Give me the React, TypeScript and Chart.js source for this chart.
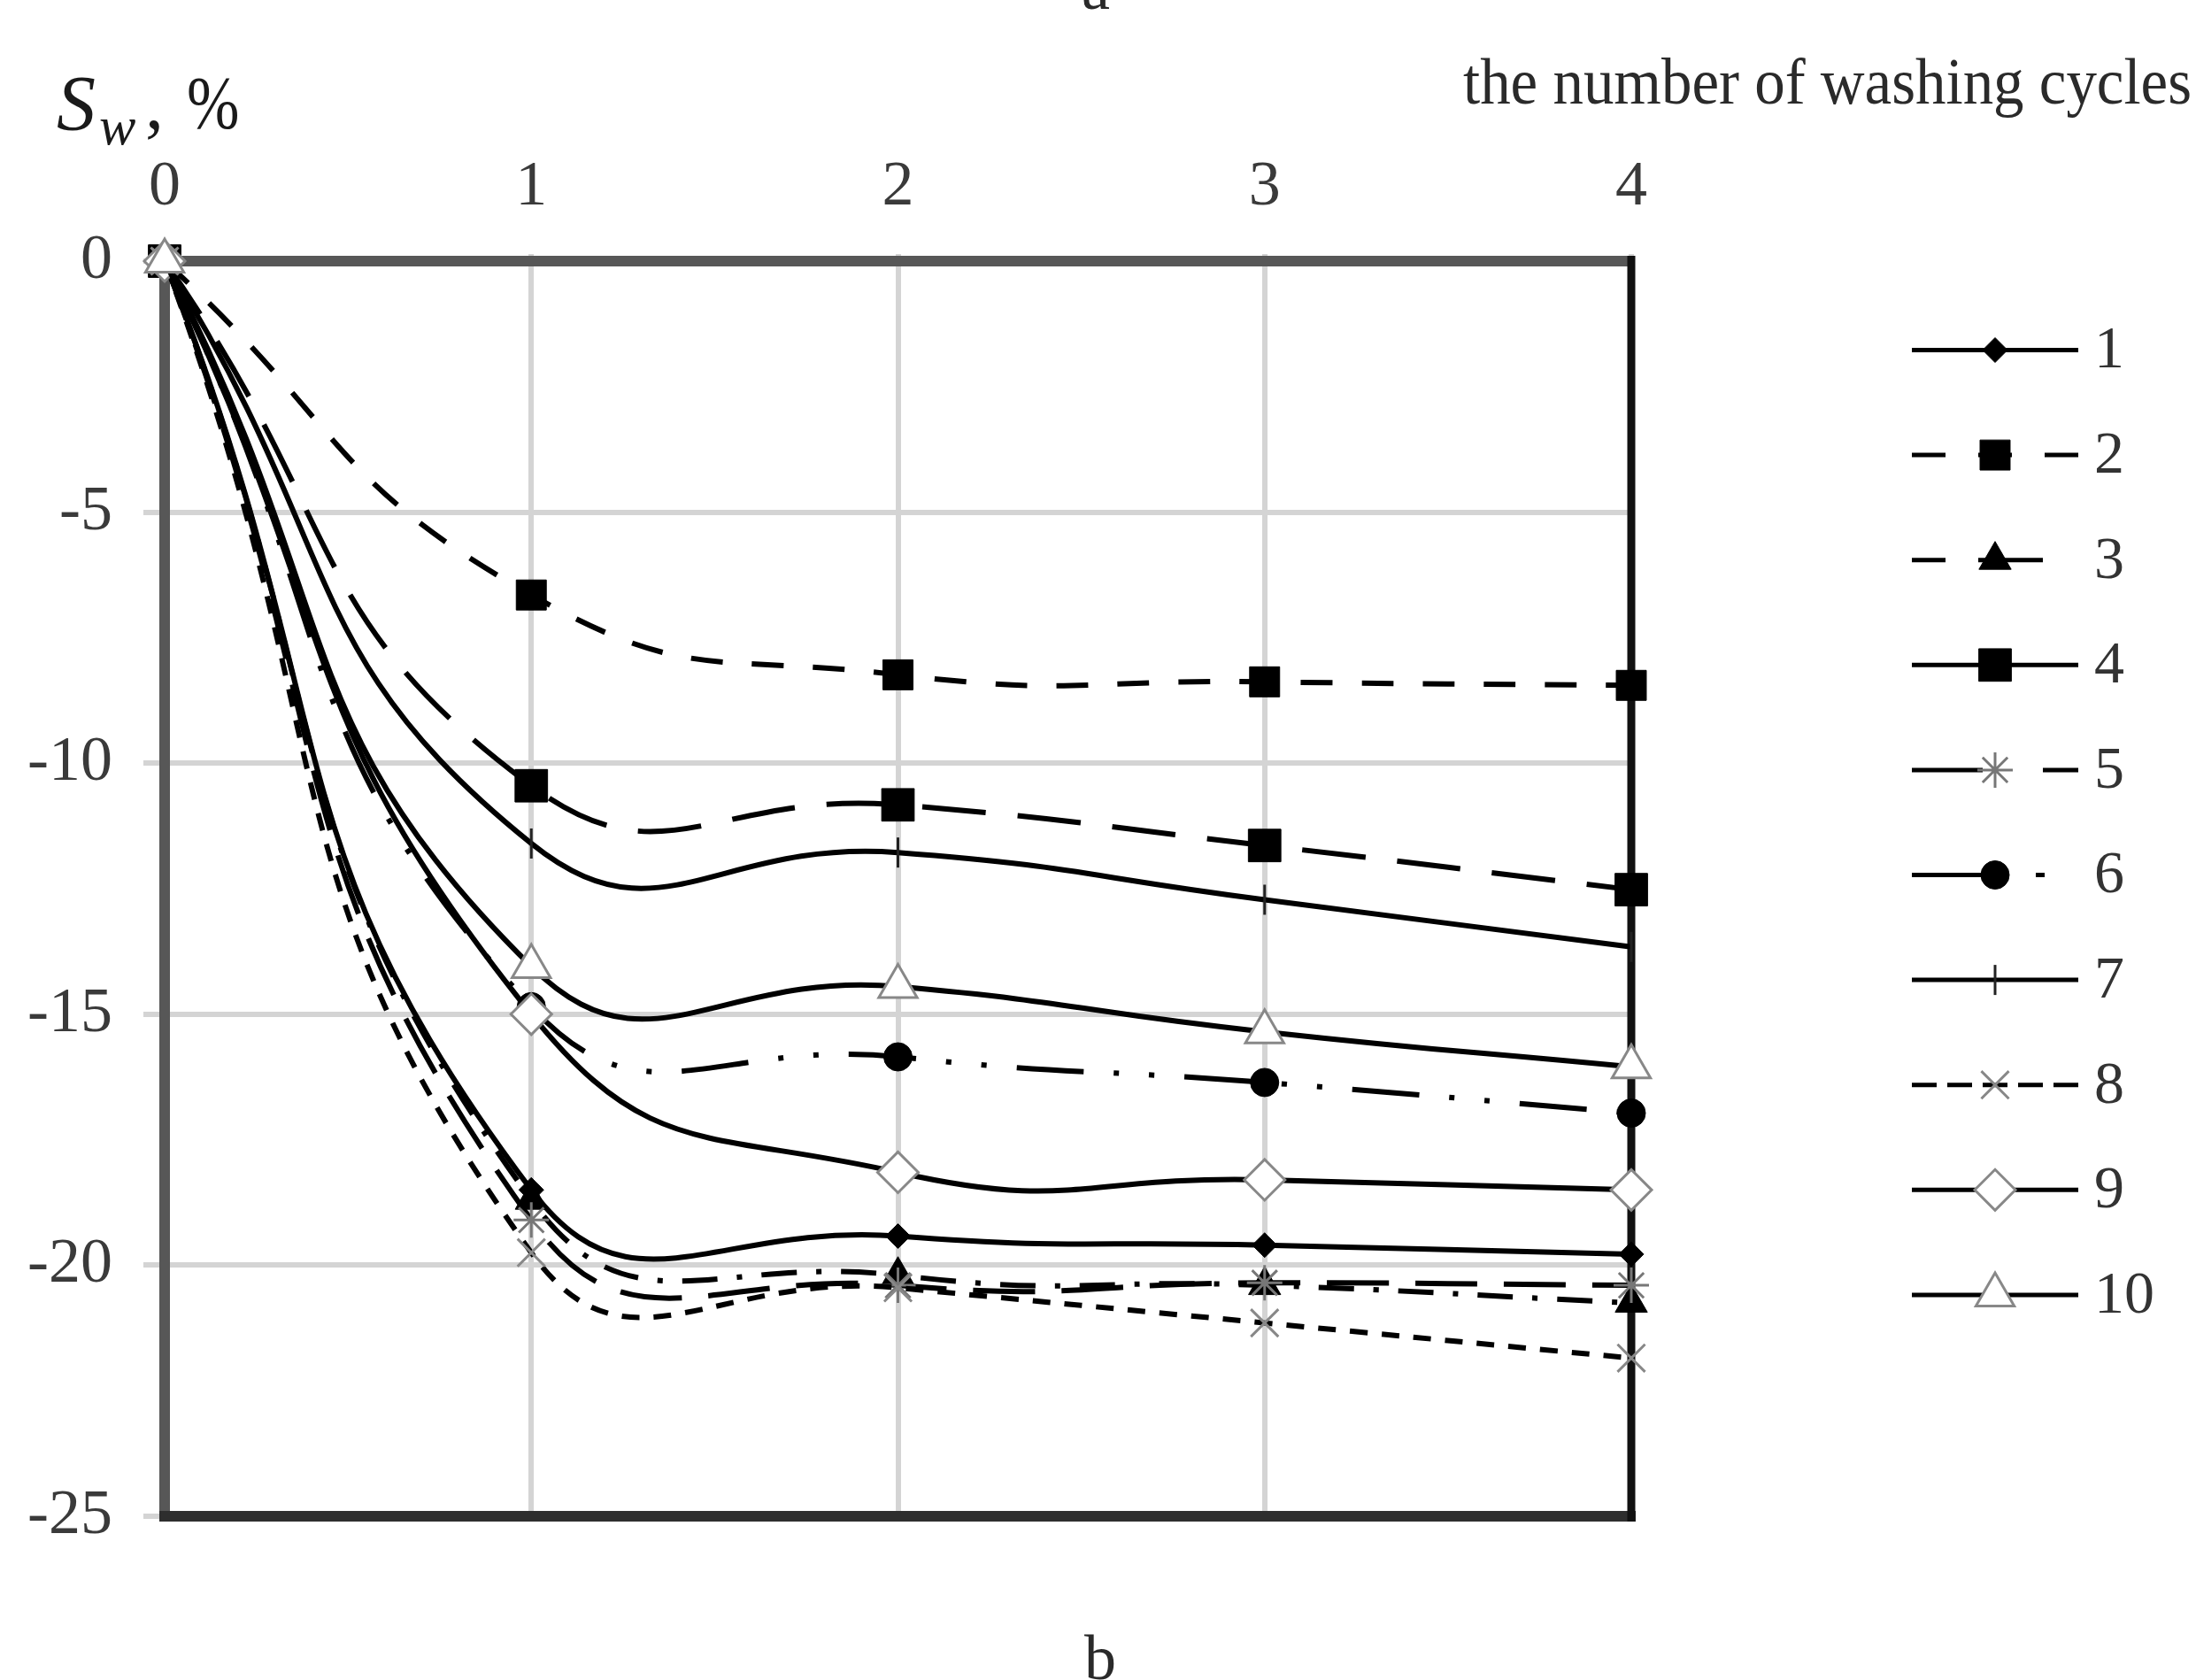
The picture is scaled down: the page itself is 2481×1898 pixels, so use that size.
import React, { useEffect, useRef } from 'react';
import { Chart, registerables } from 'chart.js';

Chart.register(...registerables);

// ---- data ----
const cycles = [0, 1, 2, 3, 4];
const seriesLabels = ['1', '2', '3', '4', '5', '6', '7', '8', '9', '10'];
const s1 = [0, -18.5, -19.42, -19.6, -19.78];
const s2 = [0, -6.65, -8.24, -8.38, -8.45];
const s3 = [0, -18.7, -20.2, -20.4, -20.75];
const s4 = [0, -10.45, -10.83, -11.64, -12.52];
const s5 = [0, -19.1, -20.4, -20.35, -20.4];
const s6 = [0, -14.85, -15.85, -16.36, -16.97];
const s7 = [0, -11.6, -11.78, -12.72, -13.66];
const s8 = [0, -19.75, -20.45, -21.15, -21.85];
const s9 = [0, -15.0, -18.15, -18.3, -18.5];
const s10 = [0, -14.05, -14.45, -15.35, -16.05];
const yTickValues = [0, -5, -10, -15, -20, -25];
const xTickValues = [0, 1, 2, 3, 4];
const yAxisTitle = 'S';
const yAxisSub = 'w';
const xAxisTitle = 'the number of washing cycles';

const allSeries = [s1, s2, s3, s4, s5, s6, s7, s8, s9, s10];

// ---- styles ----
type MarkerSpec = { style: string; r: number; fill: string; stroke: string; lw: number; rot?: number };
const plotDash: number[][] = [[], [36, 33], [40, 22, 6, 22], [72, 36], [70, 30], [76, 34, 6, 34, 6, 34], [], [20, 16], [], []];
const legendDash: number[][] = [[], [38, 37], [38, 37, 73, 40], [], [80, 68, 40, 10], [90, 50, 10, 100], [], [28, 12], [], []];
const markers: MarkerSpec[] = [
  { style: 'rectRot', r: 14, fill: '#000', stroke: '#000', lw: 1 },
  { style: 'rect', r: 24, fill: '#000', stroke: '#000', lw: 1 },
  { style: 'triangle', r: 21, fill: '#000', stroke: '#000', lw: 1 },
  { style: 'rect', r: 26, fill: '#000', stroke: '#000', lw: 1 },
  { style: 'star', r: 20, fill: 'rgba(0,0,0,0)', stroke: '#777', lw: 3 },
  { style: 'circle', r: 16, fill: '#000', stroke: '#000', lw: 1 },
  { style: 'line', r: 17, fill: '#000', stroke: '#222', lw: 3, rot: 90 },
  { style: 'crossRot', r: 22, fill: 'rgba(0,0,0,0)', stroke: '#888', lw: 3 },
  { style: 'rectRot', r: 23, fill: '#fff', stroke: '#888', lw: 3 },
  { style: 'triangle', r: 25, fill: '#fff', stroke: '#888', lw: 3 },
];

const FONT = '"Liberation Serif", "Times New Roman", serif';

function drawMarker(ctx: CanvasRenderingContext2D, m: MarkerSpec, x: number, y: number) {
  const r = m.r;
  ctx.save();
  ctx.setLineDash([]);
  ctx.lineWidth = m.lw;
  ctx.fillStyle = m.fill;
  ctx.strokeStyle = m.stroke;
  ctx.beginPath();
  switch (m.style) {
    case 'rect': {
      const s = Math.SQRT1_2 * r;
      ctx.rect(x - s, y - s, 2 * s, 2 * s);
      ctx.fill();
      ctx.stroke();
      break;
    }
    case 'rectRot':
      ctx.moveTo(x - r, y);
      ctx.lineTo(x, y - r);
      ctx.lineTo(x + r, y);
      ctx.lineTo(x, y + r);
      ctx.closePath();
      ctx.fill();
      ctx.stroke();
      break;
    case 'triangle':
      ctx.moveTo(x, y - r);
      ctx.lineTo(x + 0.866 * r, y + 0.5 * r);
      ctx.lineTo(x - 0.866 * r, y + 0.5 * r);
      ctx.closePath();
      ctx.fill();
      ctx.stroke();
      break;
    case 'circle':
      ctx.arc(x, y, r, 0, Math.PI * 2);
      ctx.fill();
      ctx.stroke();
      break;
    case 'star': {
      const d = Math.SQRT1_2 * r;
      ctx.moveTo(x, y - r); ctx.lineTo(x, y + r);
      ctx.moveTo(x - r, y); ctx.lineTo(x + r, y);
      ctx.moveTo(x - d, y - d); ctx.lineTo(x + d, y + d);
      ctx.moveTo(x - d, y + d); ctx.lineTo(x + d, y - d);
      ctx.stroke();
      break;
    }
    case 'crossRot': {
      const d = Math.SQRT1_2 * r;
      ctx.moveTo(x - d, y - d); ctx.lineTo(x + d, y + d);
      ctx.moveTo(x - d, y + d); ctx.lineTo(x + d, y - d);
      ctx.stroke();
      break;
    }
    case 'line':
      ctx.moveTo(x, y - r); ctx.lineTo(x, y + r);
      ctx.stroke();
      break;
  }
  ctx.restore();
}

const framePlugin = {
  id: 'frame',
  beforeDatasetsDraw(chart: any) {
    const { ctx } = chart;
    const { left, right, top, bottom } = chart.chartArea;
    ctx.save();
    ctx.setLineDash([]);
    ctx.lineCap = 'butt';
    ctx.lineWidth = 12;
    ctx.strokeStyle = '#575757';
    ctx.beginPath();
    ctx.moveTo(left - 6, top);
    ctx.lineTo(right, top);
    ctx.moveTo(left, top - 6);
    ctx.lineTo(left, bottom + 6);
    ctx.stroke();
    ctx.strokeStyle = '#2e2e2e';
    ctx.beginPath();
    ctx.moveTo(left - 6, bottom);
    ctx.lineTo(right + 5, bottom);
    ctx.stroke();
    ctx.lineWidth = 9;
    ctx.strokeStyle = '#111';
    ctx.beginPath();
    ctx.moveTo(right, top - 6);
    ctx.lineTo(right, bottom + 6);
    ctx.stroke();
    ctx.restore();
  },
};

const textPlugin = {
  id: 'texts',
  afterDraw(chart: any) {
    const ctx: CanvasRenderingContext2D = chart.ctx;
    ctx.save();
    ctx.fillStyle = '#1a1a1a';
    ctx.textBaseline = 'alphabetic';
    ctx.textAlign = 'left';
    // y axis title S_w, %
    ctx.font = `italic 88px ${FONT}`;
    ctx.fillText(yAxisTitle, 64, 146);
    ctx.font = `italic 62px ${FONT}`;
    ctx.fillText(yAxisSub, 112, 163);
    ctx.font = `84px ${FONT}`;
    ctx.fillText(',', 164, 145);
    ctx.save();
    ctx.translate(211, 145);
    ctx.scale(0.85, 1);
    ctx.fillText('%', 0, 0);
    ctx.restore();
    // x axis title
    ctx.fillStyle = '#2a2a2a';
    ctx.font = `74px ${FONT}`;
    const w = ctx.measureText(xAxisTitle).width;
    ctx.save();
    ctx.translate(1653, 117);
    ctx.scale(823 / w, 1);
    ctx.fillText(xAxisTitle, 0, 0);
    ctx.restore();
    // sub-figure fragments
    ctx.font = `72px ${FONT}`;
    ctx.textAlign = 'center';
    ctx.fillText('a', 1238, 10);
    ctx.fillText('b', 1243, 1897);
    // legend
    const x0 = 2160;
    const x1 = 2348;
    const xm = 2254;
    for (let i = 0; i < seriesLabels.length; i++) {
      const y = 395.5 + 118.6 * i;
      ctx.save();
      ctx.strokeStyle = '#000';
      ctx.lineWidth = 5;
      ctx.setLineDash(legendDash[i]);
      ctx.beginPath();
      ctx.moveTo(x0, y);
      ctx.lineTo(x1, y);
      ctx.stroke();
      ctx.restore();
      drawMarker(ctx, markers[i], xm, y);
      ctx.fillStyle = '#333';
      ctx.font = `68px ${FONT}`;
      ctx.textAlign = 'left';
      ctx.textBaseline = 'middle';
      ctx.fillText(seriesLabels[i], 2366, y + 2);
    }
    ctx.restore();
  },
};

export default function App() {
  const ref = useRef<HTMLCanvasElement>(null);

  useEffect(() => {
    const canvas = ref.current;
    if (!canvas) return;
    const datasets = allSeries.map((vals, i) => {
      const m = markers[i];
      return {
        label: seriesLabels[i],
        data: vals.map((v, k) => ({ x: cycles[k], y: v })),
        borderColor: '#000',
        borderWidth: 6,
        borderDash: plotDash[i],
        tension: 0.5,
        fill: false,
        pointStyle: m.style as any,
        pointRadius: m.r,
        pointRotation: m.rot || 0,
        pointBackgroundColor: m.fill,
        pointBorderColor: m.stroke,
        pointBorderWidth: m.lw,
        clip: false as any,
        order: 10 - i,
      };
    });
    const chart = new Chart(canvas, {
      type: 'line',
      data: { datasets },
      plugins: [framePlugin, textPlugin],
      options: {
        animation: false,
        responsive: false,
        devicePixelRatio: 1,
        events: [],
        layout: { padding: { left: 0, top: 0, right: 2481 - 1843, bottom: 1898 - 1713 } },
        plugins: { legend: { display: false }, tooltip: { enabled: false }, title: { display: false } },
        scales: {
          x: {
            type: 'linear',
            position: 'top',
            min: 0,
            max: 4,
            afterFit: (s: any) => { s.height = 295; },
            afterBuildTicks: (s: any) => { s.ticks = xTickValues.map((v) => ({ value: v })); },
            border: { display: false },
            grid: { color: '#d4d4d4', lineWidth: 6, tickLength: 8, drawTicks: true },
            ticks: {
              autoSkip: false,
              maxRotation: 0,
              padding: 32,
              color: '#3a3a3a',
              font: { family: FONT, size: 72 },
            },
          },
          y: {
            type: 'linear',
            min: -25,
            max: 0,
            afterFit: (s: any) => { s.width = 186; },
            afterBuildTicks: (s: any) => { s.ticks = yTickValues.map((v) => ({ value: v })); },
            border: { display: false },
            grid: { color: '#d4d4d4', lineWidth: 6, tickLength: 24, drawTicks: true },
            ticks: {
              autoSkip: false,
              padding: 35,
              color: '#3a3a3a',
              font: { family: FONT, size: 72 },
            },
          },
        },
      },
    });
    return () => chart.destroy();
  }, []);

  return (
    <div style={{ position: 'fixed', left: 0, top: 0, width: 2481, height: 1898, background: '#fff', overflow: 'hidden' }}>
      <canvas ref={ref} width={2481} height={1898} style={{ display: 'block', width: 2481, height: 1898 }} />
    </div>
  );
}
